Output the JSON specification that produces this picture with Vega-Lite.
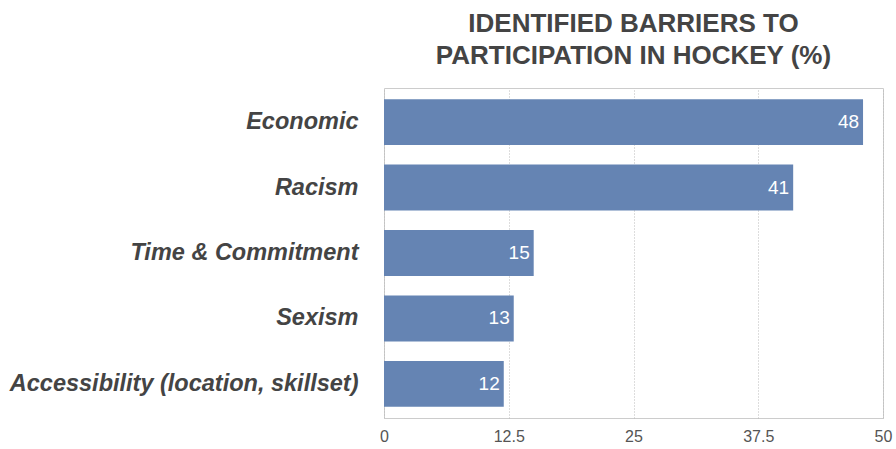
{
  "$schema": "https://vega.github.io/schema/vega-lite/v6.json",
  "autosize": "none",
  "width": 499,
  "height": 330,
  "padding": {"left": 384, "top": 88, "right": 13, "bottom": 31},
  "background": "white",
  "title": {
    "text": ["IDENTIFIED BARRIERS TO", "PARTICIPATION IN HOCKEY (%)"],
    "anchor": "middle",
    "font": "Liberation Sans",
    "fontSize": 26,
    "fontWeight": "bold",
    "color": "#444444",
    "lineHeight": 32,
    "offset": 19
  },
  "config": {
    "view": {"stroke": "#cccccc", "strokeWidth": 1},
    "font": "Liberation Sans"
  },
  "data": {
    "values": [
      {"barrier": "Economic", "pct": 48},
      {"barrier": "Racism", "pct": 41},
      {"barrier": "Time & Commitment", "pct": 15},
      {"barrier": "Sexism", "pct": 13},
      {"barrier": "Accessibility (location, skillset)", "pct": 12}
    ]
  },
  "encoding": {
    "y": {
      "field": "barrier",
      "type": "nominal",
      "sort": null,
      "scale": {"paddingInner": 0.3, "paddingOuter": 0.17},
      "axis": {
        "title": null,
        "domain": false,
        "ticks": false,
        "labelPadding": 26,
        "labelFont": "Liberation Sans",
        "labelFontSize": 23.5,
        "labelFontWeight": "bold",
        "labelFontStyle": "italic",
        "labelColor": "#444444",
        "labelLimit": 500
      }
    },
    "x": {
      "field": "pct",
      "type": "quantitative",
      "scale": {"domain": [0, 50], "nice": false},
      "axis": {
        "title": null,
        "values": [0, 12.5, 25, 37.5, 50],
        "format": ".1~f",
        "domain": false,
        "ticks": false,
        "labelPadding": 10,
        "labelFontSize": 16,
        "labelColor": "#555555",
        "grid": true,
        "gridDash": [1, 2],
        "gridColor": "#bbbbbb",
        "labelFlush": false
      }
    }
  },
  "layer": [
    {"mark": {"type": "bar", "color": "#6584b3"}},
    {
      "mark": {"type": "text", "align": "right", "dx": -4, "color": "white", "fontSize": 19, "baseline": "middle"},
      "encoding": {"text": {"field": "pct", "type": "quantitative"}}
    }
  ]
}
